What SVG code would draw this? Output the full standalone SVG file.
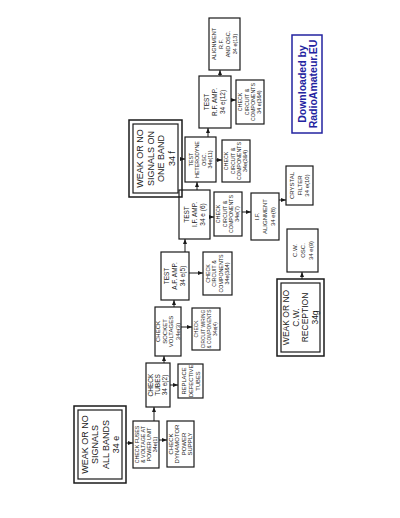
<svg xmlns="http://www.w3.org/2000/svg" width="400" height="518" viewBox="0 0 400 518">
<style>
.b{fill:none;stroke:#1a1a1a;stroke-width:1.2}
.d{fill:none;stroke:#1a1a1a;stroke-width:1.5}
.c{fill:none;stroke:#1a1a1a;stroke-width:1}
text{font-family:"Liberation Sans","DejaVu Sans",sans-serif;fill:#1a1a1a;text-anchor:middle}
.s{font-size:5.3px}
.m{font-size:6px}
.l{font-size:6.5px}
.x{font-size:9px}
.w{font-size:10.5px;font-weight:bold;fill:#2323a0}
</style>
<defs>
<marker id="a" markerUnits="userSpaceOnUse" markerWidth="5" markerHeight="4" refX="5" refY="2" orient="auto"><path d="M0,0 L5,2 L0,4 Z" fill="#1a1a1a"/></marker>
</defs>
<rect width="400" height="518" fill="#fff"/>
<g id="connectors" class="c" marker-end="url(#a)">
<path d="M126,443 H133"/>
<path d="M154,421 V407"/>
<path d="M159,440 H167"/>
<path d="M170,385 H178"/>
<path d="M164,363 V356"/>
<path d="M181,327 H192"/>
<path d="M174,307 V300"/>
<path d="M189,273 H203"/>
<path d="M185,252 V239"/>
<path d="M210,217 H214"/>
<path d="M242,212 H251"/>
<path d="M197,190 V182"/>
<path d="M182,159 H185"/>
<path d="M216,160 H222"/>
<path d="M208,137 V128"/>
<path d="M231,100 H236"/>
<path d="M220,76 V70"/>
<path d="M279,200 H286"/>
<path d="M302,279 V272"/>
</g>
<g id="allbands"><rect class="d" x="74" y="406" width="52" height="77"/><rect class="b" x="78" y="410" width="44" height="69"/>
<text class="x" transform="translate(100,444.5) rotate(-90)"><tspan x="0" y="-12.5">WEAK OR NO</tspan><tspan x="0" dy="10.5">SIGNALS</tspan><tspan x="0" dy="10.5">ALL BANDS</tspan><tspan x="0" dy="10.5">34 e</tspan></text></g>
<g id="fuses"><rect class="b" x="133" y="421" width="26" height="47"/>
<text class="s" transform="translate(146,444.5) rotate(-90)"><tspan x="0" y="-7.1">CHECK FUSES</tspan><tspan x="0" dy="6">&amp; VOLTAGE AT</tspan><tspan x="0" dy="6">POWER UNIT</tspan><tspan x="0" dy="6">34e(1)</tspan></text></g>
<g id="dynamotor"><rect class="b" x="167" y="421" width="27" height="46"/>
<text class="m" transform="translate(180.5,444) rotate(-90)"><tspan x="0" y="-7.6">CHECK</tspan><tspan x="0" dy="6.5">DYNAMOTOR</tspan><tspan x="0" dy="6.5">POWER</tspan><tspan x="0" dy="6.5">SUPPLY</tspan></text></g>
<g id="tubes"><rect class="b" x="146" y="363" width="24" height="44"/>
<text class="l" transform="translate(158,385) rotate(-90)"><tspan x="0" y="-4.7">CHECK</tspan><tspan x="0" dy="7">TUBES</tspan><tspan x="0" dy="7">34 e(2)</tspan></text></g>
<g id="replace"><rect class="b" x="178" y="364" width="25" height="34"/>
<text class="m" style="font-size:5.8px" transform="translate(190.5,381) rotate(-90)"><tspan x="0" y="-5">REPLACE</tspan><tspan x="0" dy="7">DEFECTIVE</tspan><tspan x="0" dy="7">TUBES</tspan></text></g>
<g id="socket"><rect class="b" x="155" y="307" width="26" height="49"/>
<text class="m" transform="translate(168,331.5) rotate(-90)"><tspan x="0" y="-7.6">CHECK</tspan><tspan x="0" dy="6.5">SOCKET</tspan><tspan x="0" dy="6.5">VOLTAGES</tspan><tspan x="0" dy="6.5">34e(3)</tspan></text></g>
<g id="wiring"><rect class="b" x="192" y="308" width="28" height="42"/>
<text style="font-size:4.8px" transform="translate(206,329) rotate(-90)"><tspan x="0" y="-7.8">CHECK</tspan><tspan x="0" dy="6.3">CIRCUIT WIRING</tspan><tspan x="0" dy="6.3">&amp; COMPONENTS</tspan><tspan x="0" dy="6.3">34e(4)</tspan></text></g>
<g id="afamp"><rect class="b" x="161" y="252" width="28" height="48"/>
<text class="l" transform="translate(175,276) rotate(-90)"><tspan x="0" y="-5.7">TEST</tspan><tspan x="0" dy="8">A.F. AMP.</tspan><tspan x="0" dy="8">34 e(5)</tspan></text></g>
<g id="circuit1"><rect class="b" x="203" y="252" width="29" height="43"/>
<text class="s" transform="translate(217.5,273.5) rotate(-90)"><tspan x="0" y="-7.6">CHECK</tspan><tspan x="0" dy="6.3">CIRCUIT &amp;</tspan><tspan x="0" dy="6.3">COMPONENTS</tspan><tspan x="0" dy="6.3">34e(3&amp;4)</tspan></text></g>
<g id="ifamp"><rect class="b" x="179" y="190" width="31" height="49"/>
<text class="l" transform="translate(194.5,214.5) rotate(-90)"><tspan x="0" y="-5.7">TEST</tspan><tspan x="0" dy="8">I.F. AMP.</tspan><tspan x="0" dy="8">34 e (6)</tspan></text></g>
<g id="circuit7"><rect class="b" x="214" y="192" width="28" height="44"/>
<text class="s" transform="translate(228,214) rotate(-90)"><tspan x="0" y="-7.6">CHECK</tspan><tspan x="0" dy="6.3">CIRCUIT &amp;</tspan><tspan x="0" dy="6.3">COMPONENTS</tspan><tspan x="0" dy="6.3">34e(7)</tspan></text></g>
<g id="ifalign"><rect class="b" x="251" y="193" width="28" height="47"/>
<text class="m" transform="translate(265,216.5) rotate(-90)"><tspan x="0" y="-5.9">I.F.</tspan><tspan x="0" dy="8">ALIGNMENT</tspan><tspan x="0" dy="8">34 e(8)</tspan></text></g>
<g id="oneband"><rect class="d" x="129" y="120" width="53" height="77"/><rect class="b" x="133" y="124" width="45" height="69"/>
<text class="x" transform="translate(155.5,158.5) rotate(-90)"><tspan x="0" y="-12.5">WEAK OR NO</tspan><tspan x="0" dy="10.5">SIGNALS ON</tspan><tspan x="0" dy="10.5">ONE BAND</tspan><tspan x="0" dy="10.5">34 f</tspan></text></g>
<g id="heterodyne"><rect class="b" x="185" y="137" width="31" height="45"/>
<text class="s" transform="translate(200.5,159.5) rotate(-90)"><tspan x="0" y="-7.9">TEST</tspan><tspan x="0" dy="6.5">HETERODYNE</tspan><tspan x="0" dy="6.5">OSC.</tspan><tspan x="0" dy="6.5">34e(11)</tspan></text></g>
<g id="circuit2"><rect class="b" x="222" y="140" width="28" height="42"/>
<text class="s" transform="translate(236,161) rotate(-90)"><tspan x="0" y="-7.6">CHECK</tspan><tspan x="0" dy="6.3">CIRCUIT &amp;</tspan><tspan x="0" dy="6.3">COMPONENTS</tspan><tspan x="0" dy="6.3">34e(3&amp;4)</tspan></text></g>
<g id="rfamp"><rect class="b" x="199" y="76" width="32" height="52"/>
<text class="l" transform="translate(215,102) rotate(-90)"><tspan x="0" y="-5.7">TEST</tspan><tspan x="0" dy="8">R.F. AMP.</tspan><tspan x="0" dy="8">34 e(12)</tspan></text></g>
<g id="circuit3"><rect class="b" x="236" y="80" width="28" height="44"/>
<text class="s" transform="translate(250,102) rotate(-90)"><tspan x="0" y="-7.6">CHECK</tspan><tspan x="0" dy="6.3">CIRCUIT &amp;</tspan><tspan x="0" dy="6.3">COMPONENTS</tspan><tspan x="0" dy="6.3">34 e(3&amp;4)</tspan></text></g>
<g id="alignment"><rect class="b" x="209" y="18" width="31" height="52"/>
<text style="font-size:5.5px" transform="translate(224.5,44) rotate(-90)"><tspan x="0" y="-8.6">ALIGNMENT</tspan><tspan x="0" dy="7">R.F.</tspan><tspan x="0" dy="7">AND OSC.</tspan><tspan x="0" dy="7">34 e(13)</tspan></text></g>
<g id="crystal"><rect class="b" x="286" y="166" width="27" height="39"/>
<text class="m" transform="translate(299.5,185.5) rotate(-90)"><tspan x="0" y="-5.4">CRYSTAL</tspan><tspan x="0" dy="7.5">FILTER</tspan><tspan x="0" dy="7.5">34 e(10)</tspan></text></g>
<g id="cwosc"><rect class="b" x="287" y="229" width="31" height="43"/>
<text class="m" transform="translate(302.5,250.5) rotate(-90)"><tspan x="0" y="-5.9">C.W.</tspan><tspan x="0" dy="8">OSC.</tspan><tspan x="0" dy="8">34 e(9)</tspan></text></g>
<g id="cwreception"><rect class="d" x="277" y="279" width="47" height="77"/><rect class="b" x="281" y="283" width="39" height="69"/>
<text style="font-size:8.5px" transform="translate(300.5,317.5) rotate(-90)"><tspan x="0" y="-11.2">WEAK OR NO</tspan><tspan x="0" dy="9.5">C.W.</tspan><tspan x="0" dy="9.5">RECEPTION</tspan><tspan x="0" dy="9.5">34g</tspan></text></g>
<g id="watermark"><rect x="292" y="35" width="30" height="98" fill="none" stroke="#2323a0" stroke-width="1.5"/>
<text class="w" transform="translate(307,84) rotate(-90)"><tspan x="0" y="-1.5">Downloaded by</tspan><tspan x="0" dy="11">RadioAmateur.EU</tspan></text></g>
</svg>
